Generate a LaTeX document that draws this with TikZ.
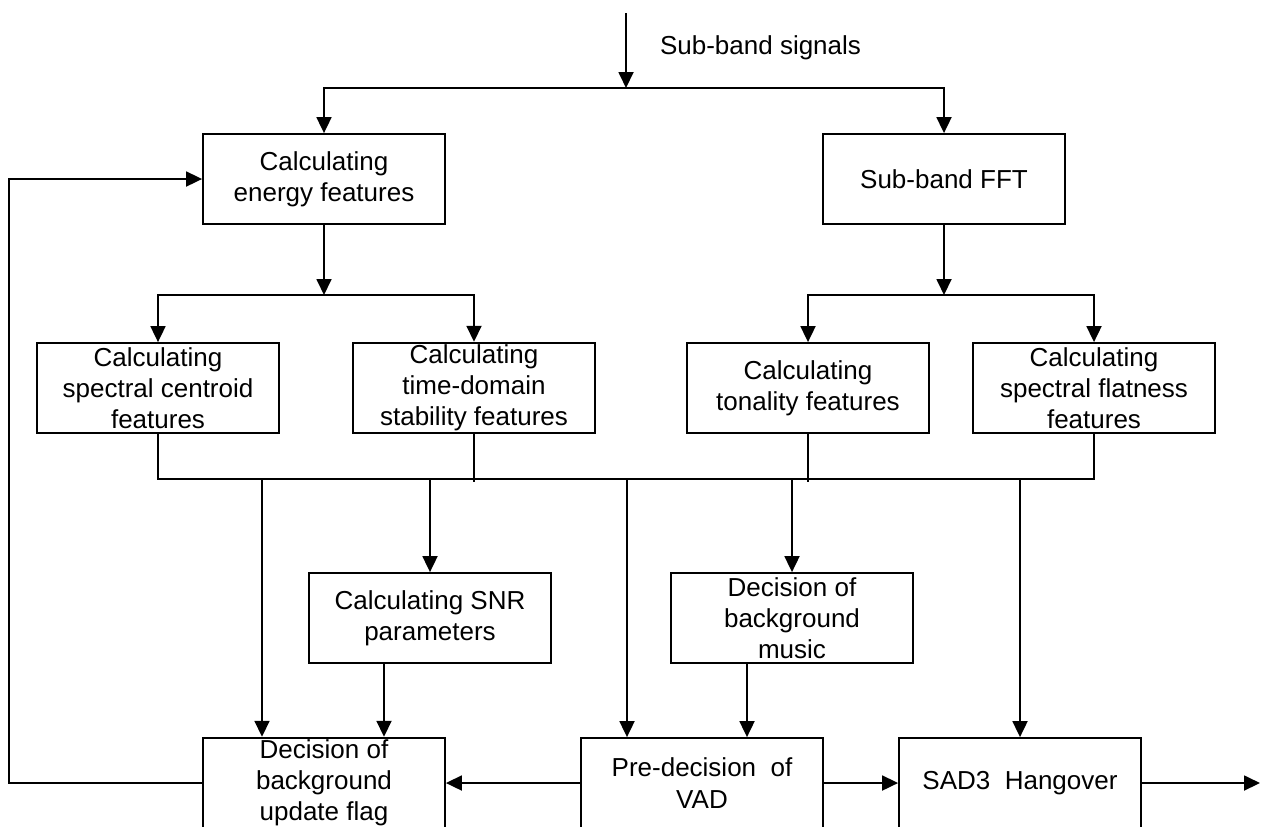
\documentclass[tikz,border=0pt]{standalone}
\usepackage{fontspec}
\setmainfont{Liberation Sans}
\usetikzlibrary{arrows.meta}

\begin{document}
\begin{tikzpicture}[x=0.5pt,y=-0.5pt,
    box/.style={draw,line width=0.9pt,minimum width=121pt,minimum height=45pt,
      align=center,inner sep=1pt,font=\fontsize{13}{15.6}\selectfont},
    arr/.style={line width=0.9pt,-{Triangle[length=8pt,width=7.5pt]}},
    bus/.style={line width=0.9pt}]
  \useasboundingbox (0,0) rectangle (1261,826);
  \clip (0,0) rectangle (1261,826);

  \node[box] (energy) at (324,179) {Calculating\\energy features};
  \node[box] (fft) at (944,179) {Sub-band FFT};
  \node[box] (centroid) at (158,388) {Calculating\\spectral centroid\\features};
  \node[box] (stability) at (474,388) {Calculating\\time-domain\\stability features};
  \node[box] (tonality) at (808,388) {Calculating\\tonality features};
  \node[box] (flatness) at (1094,388) {Calculating\\spectral flatness\\features};
  \node[box] (snr) at (430,618) {Calculating SNR\\parameters};
  \node[box] (music) at (792,618) {Decision of\\background\\music};
  \node[box] (bgflag) at (324,783) {Decision of\\background\\update flag};
  \node[box] (prevad) at (702,783) {Pre-decision~~of\\VAD};
  \node[box] (hangover) at (1020,783) {SAD3~~Hangover};

  \node[anchor=west,font=\fontsize{13}{16}\selectfont] (signals) at (653,48) {Sub-band signals};

  \coordinate (in) at (626,13);
  \coordinate (split) at (626,88);
  \coordinate (ebranch) at (324,295);
  \coordinate (fbranch) at (944,295);
  \coordinate (busL) at (158,479);
  \coordinate (busR) at (1094,479);
  \coordinate (fb) at (9,783);
  \coordinate (out) at (1260,783);

  \draw[arr] (in) -- (split);
  \draw[arr] (split) -| (energy);
  \draw[arr] (split) -| (fft);

  \draw[arr] (energy) -- (ebranch);
  \draw[arr] (ebranch) -| (centroid);
  \draw[arr] (ebranch) -| (stability);
  \draw[arr] (fft) -- (fbranch);
  \draw[arr] (fbranch) -| (tonality);
  \draw[arr] (fbranch) -| (flatness);

  \draw[bus] (centroid) -- (busL) -- (busR) -- (flatness);
  \draw[bus] (stability) -- ([yshift=-1.5pt]stability |- busL);
  \draw[bus] (tonality) -- ([yshift=-1.5pt]tonality |- busL);

  \draw[arr] ([xshift=-31pt]bgflag.north |- busL) -- ([xshift=-31pt]bgflag.north);
  \draw[arr] (snr |- busL) -- (snr);
  \draw[arr] ([xshift=-37.5pt]prevad.north |- busL) -- ([xshift=-37.5pt]prevad.north);
  \draw[arr] (music |- busL) -- (music);
  \draw[arr] (hangover |- busL) -- (hangover);

  \draw[arr] ([xshift=-23pt]snr.south) -- ([xshift=-23pt]snr.south |- bgflag.north);
  \draw[arr] ([xshift=-22.5pt]music.south) -- ([xshift=-22.5pt]music.south |- prevad.north);

  \draw[arr] (prevad) -- (bgflag);
  \draw[arr] (prevad) -- (hangover);
  \draw[arr] (hangover) -- (out);
  \draw[arr] (bgflag.west) -- (fb) |- (energy.west);
\end{tikzpicture}
\end{document}
